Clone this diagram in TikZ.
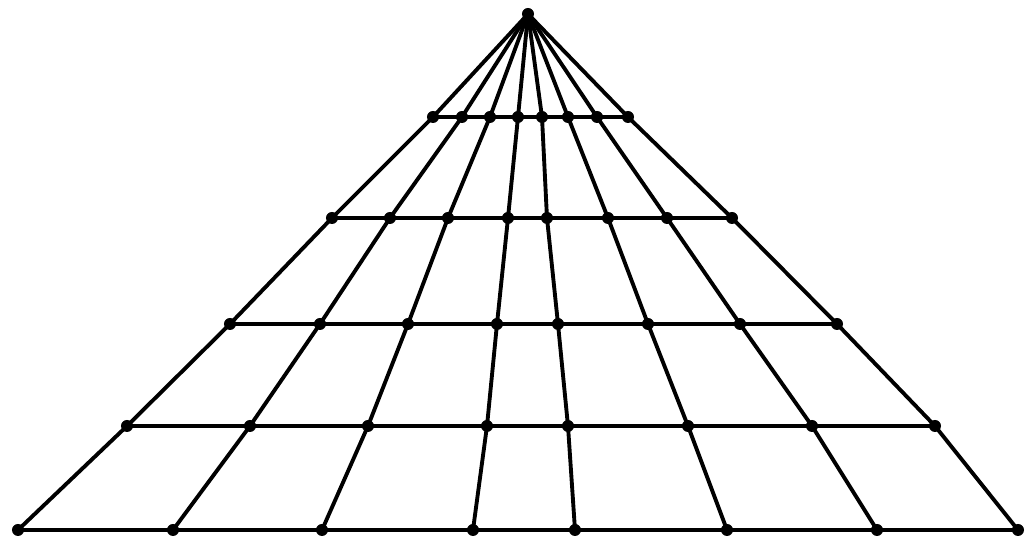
\documentclass[tikz,border=0pt]{standalone}
\usepackage{tikz}

\tikzset{
  dot/.style={circle, fill=black, inner sep=0pt, minimum size=0.12cm},
  gridline/.style={line width=1.1pt, line join=round}
}

\begin{document}
\begin{tikzpicture}[x=0.01cm, y=-0.01cm]
  \useasboundingbox (0,0) rectangle (1029,540);
  % vanishing point
  \node[dot] (apex) at (528,14) {};
  % grid points, row by row (top to bottom)
  \foreach \r/\y/\xs in {1/117/{433,462,490,518,542,568,597,628},
                         2/218/{332,390,448,508,547,608,667,732},
                         3/324/{230,320,408,497,558,648,740,837},
                         4/426/{127,250,368,487,568,688,812,935},
                         5/530/{18,173,322,473,575,727,877,1018}}
    \foreach \x [count=\c] in \xs
      \node[dot] (p-\r-\c) at (\x,\y) {};
  % horizontal rows
  \foreach \r in {1,...,5}
    \draw[gridline] (p-\r-1.center) -- (p-\r-8.center);
  % rays from the vanishing point
  \foreach \c in {1,...,8}
    \draw[gridline] (apex.center) -- (p-1-\c.center) -- (p-2-\c.center)
      -- (p-3-\c.center) -- (p-4-\c.center) -- (p-5-\c.center);
\end{tikzpicture}
\end{document}
